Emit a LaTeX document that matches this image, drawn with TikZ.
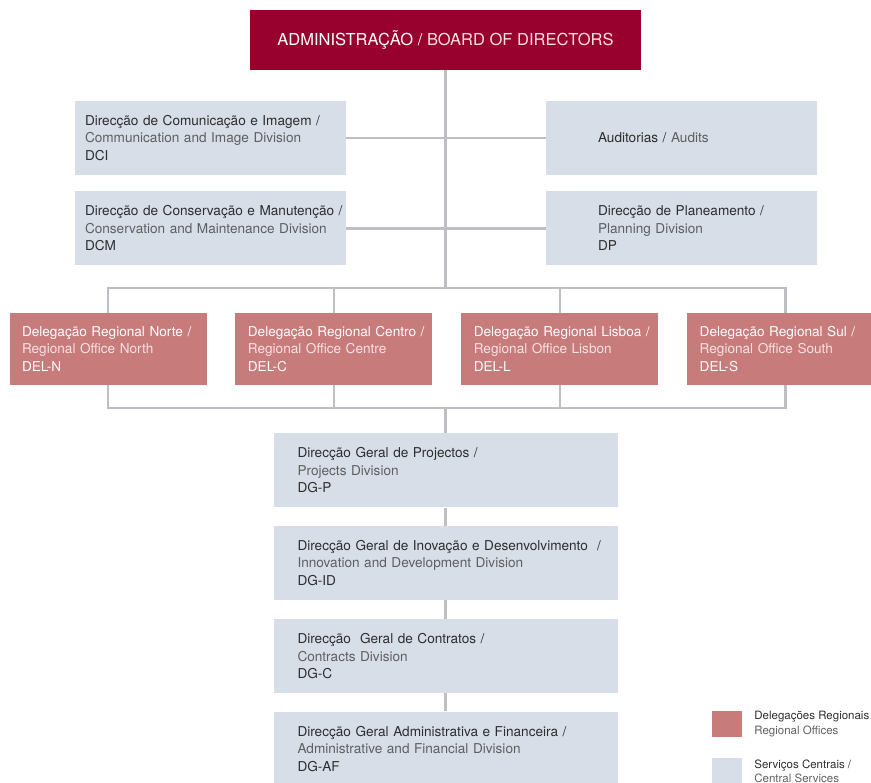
\documentclass[tikz,border=0pt]{standalone}
\usepackage{fontspec}
\setmainfont{TeX Gyre Heros}
\usepackage{tikz}
\usetikzlibrary{shapes, positioning, calc}
\definecolor{board}{RGB}{152,0,46}
\definecolor{deleg}{RGB}{199,123,123}
\definecolor{central}{RGB}{215,222,232}
\definecolor{wire}{RGB}{190,191,196}
\definecolor{txt}{RGB}{45,45,45}
\definecolor{subtxt}{RGB}{95,95,95}
\definecolor{subpink}{RGB}{248,226,226}
\newcommand{\boxfont}{\fontsize{13.6}{17.5}\selectfont}

\begin{document}
\begin{tikzpicture}[x=1pt, y=1pt, node distance=18pt,
  top node/.style={rectangle, fill=board, text=white, minimum width=391pt, minimum height=60pt, font=\fontsize{16.5}{20}\selectfont},
  sq node/.style={rectangle, fill=central, text=txt, align=left, minimum height=74pt, font=\boxfont},
  side node/.style={sq node, text width=251pt, inner xsep=10pt},
  aud node/.style={sq node, text width=167pt, inner xsep=52pt},
  del node/.style={rectangle, fill=deleg, text=white, align=left, minimum height=72pt, text width=172pt, inner xsep=12.5pt, font=\boxfont},
  dg node/.style={sq node, text width=296pt, inner xsep=24pt},
  key node/.style={rectangle, minimum width=30pt, minimum height=26pt, inner sep=0pt},
  key text/.style={align=left, inner sep=0pt, text=txt, font=\fontsize{11.5}{14.5}\selectfont},
  link line/.style={draw=wire, line width=2.5pt}]
  \useasboundingbox (0,0) rectangle (871,-783);
  \node[top node] (1) at (445.5,-40) {ADMINISTRAÇÃO / \textcolor{subpink}{BOARD OF DIRECTORS}};
  \node[side node] (2) at (210.5,-138) {Direcção de Comunicação e Imagem /\\ \textcolor{subtxt}{Communication and Image Division}\\ DCI};
  \node[side node, below = 16pt of 2] (3) {\mbox{Direcção de Conservação e Manutenção /}\\ \textcolor{subtxt}{Conservation and Maintenance Division}\\ DCM};
  \node[aud node] (4) at (681.5,-138) {Auditorias / \textcolor{subtxt}{Audits}};
  \node[aud node, below = 16pt of 4] (5) {Direcção de Planeamento /\\ \textcolor{subtxt}{Planning Division}\\ DP};
  % regional offices
  \node[del node] (6) at (108,-349) {\mbox{Delegação Regional Norte /}\\ \textcolor{subpink}{Regional Office North}\\ DEL-N};
  \node[del node, right = 28.5pt of 6] (7) {\mbox{Delegação Regional Centro /}\\ \textcolor{subpink}{Regional Office Centre}\\ DEL-C};
  \node[del node, right = 28.5pt of 7] (8) {\mbox{Delegação Regional Lisboa /}\\ \textcolor{subpink}{Regional Office Lisbon}\\ DEL-L};
  \node[del node, right = 28.5pt of 8] (9) {\mbox{Delegação Regional Sul /}\\ \textcolor{subpink}{Regional Office South}\\ DEL-S};
  % central services
  \node[dg node, below = 363pt of 1] (10) {Direcção Geral de Projectos /\\ \textcolor{subtxt}{Projects Division}\\ DG-P};
  \node[dg node, below = 18pt of 10] (11) {\mbox{Direcção Geral de Inovação e Desenvolvimento~ /}\\ \textcolor{subtxt}{Innovation and Development Division}\\ DG-ID};
  \node[dg node, below = 19pt of 11] (12) {Direcção~ Geral de Contratos /\\ \textcolor{subtxt}{Contracts Division}\\ DG-C};
  \node[dg node, below = 18pt of 12] (13) {\mbox{Direcção Geral Administrativa e Financeira /}\\ \textcolor{subtxt}{Administrative and Financial Division}\\ DG-AF};
  % legend
  \node[key node, fill=deleg] (14) at (727,-724) {};
  \node[key node, fill=central, below = 21pt of 14] (15) {};
  \node[key text, right = 12pt of 14] (16) {Delegações Regionais /\\ \textcolor{subtxt}{Regional Offices}};
  \node[key text, right = 12pt of 15] (17) {Serviços Centrais /\\ \textcolor{subtxt}{Central Services}};

  \coordinate (t) at ($(6.north)+(0,25)$);
  \coordinate (b) at ($(6.south)+(0,-23)$);
  \draw[link line] (6) -- (6 |- t) -- (9 |- t) -- (9);
  \draw[link line] (6) -- (6 |- b) -- (9 |- b) -- (9);
  \path[link line]
    (1) edge (1 |- t)
    (2) edge (4)
    (3) edge (5)
    (7) edge (7 |- t)
    (7) edge (7 |- b)
    (8) edge (8 |- t)
    (8) edge (8 |- b)
    (10 |- b) edge (10)
    (10) edge (11)
    (11) edge (12)
    (12) edge (13);
\end{tikzpicture}
\end{document}
